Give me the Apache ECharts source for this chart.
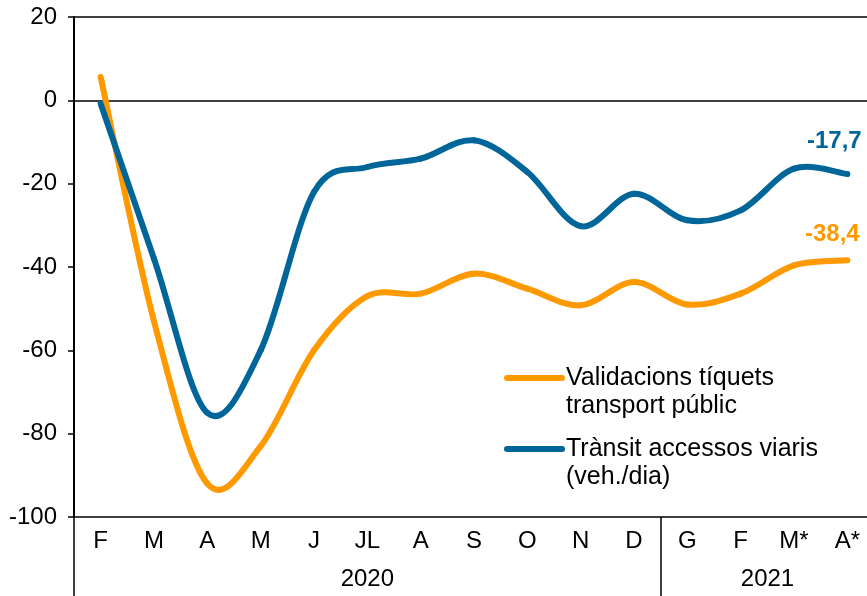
<!DOCTYPE html>
<html>
<head>
<meta charset="utf-8">
<script src="https://cdn.jsdelivr.net/npm/echarts@6/dist/echarts.min.js"></script>
<style>
  html, body { margin: 0; padding: 0; background: #fff; overflow: hidden; }
  /* la gràfica original queda tallada pel marge dret */
  #chart { width: 874px; height: 596px; }
</style>
</head>
<body>
<div id="chart"></div>
<script>
  // mesos (eix de categories)
  var months = ['F', 'M', 'A', 'M', 'J', 'JL', 'A', 'S', 'O', 'N', 'D', 'G', 'F', 'M*', 'A*'];
  // anys i quants mesos té cada grup
  var years = ['2020', '2021'];
  var yearSpans = [11, 4];

  var seriesNames = ['Validacions tíquets\ntransport públic', 'Trànsit accessos viaris\n(veh./dia)'];
  // variació (%) respecte al mateix mes de l'any anterior
  var validacions = [5.6, -53, -92, -83, -60, -47, -46.4, -41.6, -45.2, -49.2, -43.6, -49, -46.4, -39.6, -38.4];
  var transit = [-0.8, -38, -75, -60, -22, -16, -14, -9.6, -17.2, -30.2, -22.4, -28.8, -26.4, -16.4, -17.7];

  var yTicks = { min: -100, max: 20, interval: 20 };

  var myColor = ['#FF9900', '#006699'];
  var font = '"Liberation Sans", Arial, sans-serif';

  // posicions dels separadors i etiquetes d'any
  var yearBreaks = [0];
  var yearCenters = [];
  var acc = 0;
  yearSpans.forEach(function (n) {
    yearCenters.push(acc + n / 2);
    acc += n;
    yearBreaks.push(acc);
  });

  // línia suavitzada (tipus Excel, Catmull-Rom) a partir dels valors
  function smoothLine (name, values, color, labelOffset) {
    var n = values.length;
    var k = 1 / 6;
    return {
      name: name,
      type: 'custom',
      data: values.map(function (v, i) { return [i, v]; }),
      encode: { x: 0, y: 1 },
      clip: false,
      renderItem: function (params, api) {
        var i = params.dataIndex;
        var pt = function (j) {
          j = Math.max(0, Math.min(n - 1, j));
          return api.coord([j, values[j]]);
        };
        if (i < n - 1) {
          var p0 = pt(i - 1), p1 = pt(i), p2 = pt(i + 1), p3 = pt(i + 2);
          return {
            type: 'bezierCurve',
            shape: {
              x1: p1[0], y1: p1[1],
              x2: p2[0], y2: p2[1],
              cpx1: p1[0] + (p2[0] - p0[0]) * k,
              cpy1: p1[1] + (p2[1] - p0[1]) * k,
              cpx2: p2[0] - (p3[0] - p1[0]) * k,
              cpy2: p2[1] - (p3[1] - p1[1]) * k
            },
            style: { stroke: color, lineWidth: 6, fill: 'none', lineCap: 'round' }
          };
        }
        // últim punt: etiqueta del valor
        var p = pt(i);
        return {
          type: 'text',
          x: p[0] + labelOffset[0],
          y: p[1] + labelOffset[1],
          style: {
            text: String(values[i]).replace('.', ','),
            fill: color,
            font: 'bold 24px ' + font,
            align: 'center',
            verticalAlign: 'middle'
          }
        };
      }
    };
  }

  var chart = echarts.init(document.getElementById('chart'));

  var option = {
    animation: false,
    backgroundColor: '#fff',
    grid: {
      left: 74,
      top: 17,
      right: 0,
      bottom: 79
    },
    xAxis: [{
      type: 'category',
      data: months,
      boundaryGap: true,
      axisLine: { show: true, onZero: false, lineStyle: { color: '#000', width: 1.5 } },
      axisTick: { show: false },
      axisLabel: { color: '#000', fontSize: 24, fontFamily: font, margin: 12, interval: 0 },
      splitLine: { show: false }
    }, {
      // segon nivell: anys
      type: 'category',
      data: months,
      position: 'bottom',
      boundaryGap: true,
      axisLine: { show: false, onZero: false },
      axisTick: {
        show: true,
        length: 79,
        interval: function (index) {
          return yearBreaks.indexOf(index) >= 0 && index < months.length;
        },
        lineStyle: { color: '#000', width: 1.5 }
      },
      axisLabel: {
        color: '#000',
        fontSize: 24,
        fontFamily: font,
        margin: 50,
        interval: function (index) {
          return yearCenters.some(function (c) { return Math.floor(c) === index; });
        },
        formatter: function (value, index) {
          for (var k = 0; k < yearCenters.length; k++) {
            if (Math.floor(yearCenters[k]) === index) {
              // si el centre cau entre dues categories, desplaça mitja banda
              return yearCenters[k] % 1 === 0 ? '{s|' + years[k] + '}' : years[k];
            }
          }
          return '';
        },
        rich: {
          s: { fontSize: 24, fontFamily: font, color: '#000', padding: [0, 53, 0, 0] }
        }
      },
      splitLine: { show: false }
    }],
    yAxis: {
      type: 'value',
      min: yTicks.min,
      max: yTicks.max,
      interval: yTicks.interval,
      axisLine: { show: true, lineStyle: { color: '#000', width: 2 } },
      axisTick: { show: true, length: 6, lineStyle: { color: '#000', width: 1.5 } },
      axisLabel: { color: '#000', fontSize: 24, fontFamily: font, margin: 17 },
      // només les línies de 0 i 20
      splitLine: {
        show: true,
        lineStyle: {
          width: 1.5,
          color: ['transparent', 'transparent', 'transparent', 'transparent', 'transparent', '#000', '#000']
        }
      }
    },
    series: [
      smoothLine(seriesNames[0], validacions, myColor[0], [-15, -26]),
      smoothLine(seriesNames[1], transit, myColor[1], [-13, -33])
    ],
    graphic: [
      { type: 'line', shape: { x1: 507, y1: 378, x2: 562, y2: 378 }, style: { stroke: myColor[0], lineWidth: 6, lineCap: 'round' } },
      { type: 'text', x: 566, y: 364, style: { text: seriesNames[0], font: '25px ' + font, fill: '#000', lineHeight: 28, verticalAlign: 'top' } },
      { type: 'line', shape: { x1: 507, y1: 449, x2: 562, y2: 449 }, style: { stroke: myColor[1], lineWidth: 6, lineCap: 'round' } },
      { type: 'text', x: 566, y: 435, style: { text: seriesNames[1], font: '25px ' + font, fill: '#000', lineHeight: 28, verticalAlign: 'top' } }
    ]
  };

  chart.setOption(option);
</script>
</body>
</html>
